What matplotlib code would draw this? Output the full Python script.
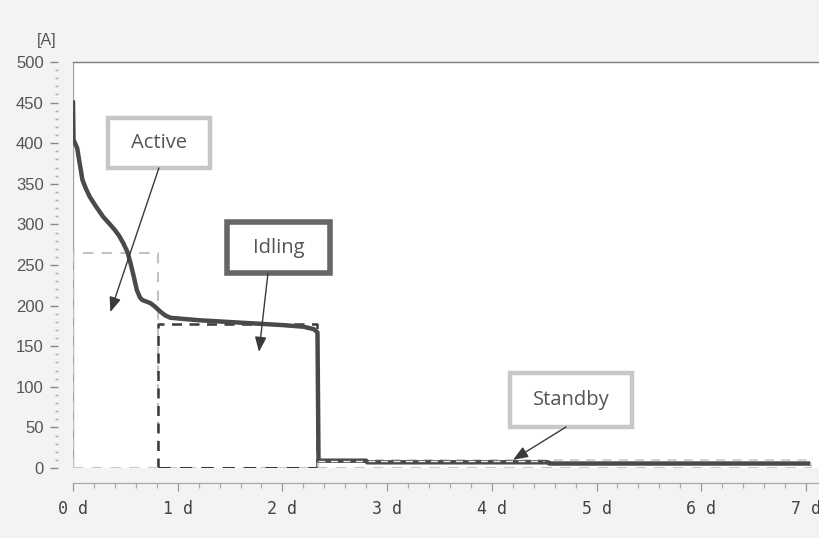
import matplotlib.pyplot as plt
from matplotlib.patches import Rectangle
from matplotlib.ticker import MultipleLocator
import numpy as np

# load duration curve (current sorted by duration)
days = [0.0, 0.005, 0.02, 0.04, 0.06, 0.09, 0.12, 0.16, 0.22, 0.29, 0.34, 0.40,
        0.44, 0.48, 0.52, 0.55, 0.58, 0.61, 0.64, 0.66, 0.70, 0.74, 0.78,
        0.84, 0.88, 0.93, 1.2, 1.6, 2.0, 2.2, 2.30, 2.335, 2.345, 2.80, 2.81,
        4.54, 4.55, 7.02]
amps = [450, 404, 400, 394, 378, 355, 345, 334, 322, 309, 302, 293,
        286, 277, 266, 252, 236, 219, 210, 207, 205, 203, 199,
        192, 188, 185, 182, 179, 176, 174, 171, 167, 9, 9, 7,
        7, 5.5, 5.5]

# operating modes: (start day, end day, current level)
modes = ["Active", "Idling", "Standby"]
mode_start = [0.0, 0.81, 2.34]
mode_end = [0.81, 2.33, 7.05]
mode_level = [265, 177, 10]

x_ticks = [0, 1, 2, 3, 4, 5, 6, 7]
x_labels = [f"{d} d" for d in x_ticks]

fig = plt.figure(figsize=(8.2, 5.38), dpi=100, facecolor="#f3f3f3")
ax = fig.add_axes([73 / 820, 1 - 468 / 538, 747 / 820, 406 / 538], facecolor="white")

ax.set_xlim(0, 747 / 104.7)
ax.set_ylim(0, 500)

# dashed mode boxes
box_styles = [
    dict(color="#c2c2c2", lw=1.5, ls=(0, (5, 4))),
    dict(color="#3a3a3a", lw=1.8, ls=(0, (4, 3))),
    dict(color="#cfcfcf", lw=1.3, ls=(0, (5, 4))),
]
for s, e, lvl, st in zip(mode_start, mode_end, mode_level, box_styles):
    ax.plot([s, s, e, e], [0, lvl, lvl, 0], zorder=2, **st)
# bottom edges of the boxes
ax.plot([0, mode_end[-1]], [0, 0], color="#c8c8c8", lw=1.5, ls=(0, (5, 4)), zorder=2)
ax.plot([mode_start[1], mode_end[1]], [0, 0], color="#3a3a3a", lw=2.2,
        ls=(0, (4, 3)), zorder=3)

# the measured curve
ax.plot(days, amps, color="#4a4a4a", lw=3.2, solid_joinstyle="round", zorder=4)
# standby dashed top drawn over the curve
ax.plot([mode_start[2], 4.5], [mode_level[2] - 1, mode_level[2] - 1], color="#e8e8e8",
        lw=1.0, ls=(0, (5, 4)), zorder=5)

# frame
ax.spines["right"].set_visible(False)
ax.spines["top"].set_color("#7a7a7a")
ax.spines["top"].set_linewidth(1.0)
ax.spines["left"].set_position(("outward", 11))
ax.spines["left"].set_visible(False)
ax.spines["bottom"].set_position(("outward", 11))
ax.spines["bottom"].set_color("#a8a8a8")
ax.spines["bottom"].set_linewidth(0.9)
ax.axvline(0, color="#a0a0a0", lw=1.0, zorder=1)

ax.yaxis.set_major_locator(MultipleLocator(50))
ax.yaxis.set_minor_locator(MultipleLocator(10))
ax.tick_params(axis="y", which="major", length=6, width=1, color="#888888",
               labelsize=12, labelcolor="#555555", pad=4)
ax.tick_params(axis="y", which="minor", length=2.5, width=1, color="#aaaaaa")
for lab in ax.get_yticklabels():
    lab.set_family("Liberation Sans")

ax.set_xticks(x_ticks)
ax.set_xticklabels(x_labels, family="DejaVu Sans Mono", fontsize=12, color="#444444")
ax.xaxis.set_minor_locator(MultipleLocator(0.2))
ax.tick_params(axis="x", which="major", length=6, width=0.9, color="#999999", pad=6)
ax.tick_params(axis="x", which="minor", length=3.5, width=0.9, color="#aaaaaa")

fig.text(47 / 820, 1 - 40 / 538, "[A]", ha="center", va="center", fontsize=11.5,
         family="Liberation Sans", color="#555555")

# annotation boxes, in axes fractions: (x0, y0, w, h), arrow start, arrow tip
boxes = [
    dict(rect=(0.047, 0.739, 0.136, 0.123), edge="#c6c6c6", lw=3.2,
         start=(0.115, 0.739), tip=(0.050, 0.384)),
    dict(rect=(0.206, 0.480, 0.138, 0.126), edge="#666666", lw=4.0,
         start=(0.261, 0.480), tip=(0.249, 0.286)),
    dict(rect=(0.585, 0.101, 0.163, 0.133), edge="#c8c8c8", lw=3.2,
         start=(0.660, 0.101), tip=(0.589, 0.020)),
]
for name, b in zip(modes, boxes):
    x0, y0, w, h = b["rect"]
    ax.add_patch(Rectangle((x0, y0), w, h, transform=ax.transAxes, facecolor="white",
                           edgecolor=b["edge"], lw=b["lw"], zorder=6))
    ax.text(x0 + w / 2, y0 + h / 2, name, transform=ax.transAxes, ha="center",
            va="center", fontsize=14.5, family="Open Sans", color="#555555", zorder=7)
    ax.annotate("", xy=b["tip"], xytext=b["start"], xycoords="axes fraction",
                textcoords="axes fraction",
                arrowprops=dict(arrowstyle="-|>,head_length=0.9,head_width=0.35",
                                color="#3a3a3a", lw=1.0, shrinkA=0, shrinkB=0),
                zorder=6)

plt.savefig("out.png", dpi=100, facecolor=fig.get_facecolor())
